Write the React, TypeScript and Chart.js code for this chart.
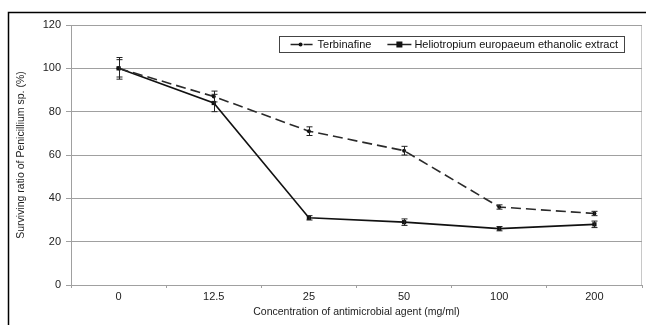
import React, { useEffect, useRef } from "react";
import { Chart, registerables } from "chart.js";
Chart.register(...registerables);

const categories = ["0", "12.5", "25", "50", "100", "200"];
const terbinafine = [100, 87, 71, 62, 36, 33];
const terbinafineErr = [5, 2.5, 2, 2, 1, 1];
const heliotropium = [100, 84, 31, 29, 26, 28];
const heliotropiumErr = [4, 4, 1, 1.5, 1, 1.5];
const seriesNames = ["Terbinafine", "Heliotropium europaeum ethanolic extract"];
const yMin = 0;
const yMax = 120;
const yStep = 20;
const xTitle = "Concentration of antimicrobial agent (mg/ml)";
const yTitle = "Surviving ratio of Penicillium sp. (%)";

const FONT = "'Liberation Sans', Arial, sans-serif";

const framePlugin = {
  id: "frame",
  beforeDraw(chart: any) {
    const { ctx, width, height, chartArea } = chart;
    ctx.save();
    ctx.fillStyle = "#ffffff";
    ctx.fillRect(0, 0, width, height);
    ctx.strokeStyle = "#000000";
    ctx.lineWidth = 1.5;
    ctx.beginPath();
    ctx.moveTo(8.5, height);
    ctx.lineTo(8.5, 12.5);
    ctx.lineTo(width, 12.5);
    ctx.stroke();
    ctx.strokeStyle = "#c8c8c8";
    ctx.lineWidth = 1;
    ctx.beginPath();
    ctx.moveTo(chartArea.right - 0.5, chartArea.top);
    ctx.lineTo(chartArea.right - 0.5, chartArea.bottom);
    ctx.stroke();
    ctx.restore();
  },
};

const errorBarPlugin = {
  id: "errorBars",
  afterDatasetsDraw(chart: any) {
    const { ctx } = chart;
    const xs = chart.scales.x;
    const ys = chart.scales.y;
    ctx.save();
    ctx.strokeStyle = "#222222";
    ctx.lineWidth = 1;
    chart.data.datasets.forEach((ds: any) => {
      const errs: number[] = ds.errors || [];
      ds.data.forEach((v: number, i: number) => {
        const e = errs[i];
        if (!e) return;
        const x = Math.round(xs.getPixelForValue(i)) + 0.5;
        const yt = ys.getPixelForValue(v + e);
        const yb = ys.getPixelForValue(v - e);
        ctx.beginPath();
        ctx.moveTo(x, yt);
        ctx.lineTo(x, yb);
        ctx.moveTo(x - 3, yt);
        ctx.lineTo(x + 3, yt);
        ctx.moveTo(x - 3, yb);
        ctx.lineTo(x + 3, yb);
        ctx.stroke();
      });
    });
    ctx.restore();
  },
};

const legendPlugin = {
  id: "boxLegend",
  afterDraw(chart: any) {
    const { ctx, chartArea } = chart;
    ctx.save();
    ctx.font = `11px ${FONT}`;
    const sample = 24;
    const w1 = ctx.measureText(chart.data.datasets[0].label).width;
    const w2 = ctx.measureText(chart.data.datasets[1].label).width;
    const padL = 12, gapT = 3, gapItem = 16, padR = 6;
    const boxW = padL + sample + gapT + w1 + gapItem + sample + gapT + w2 + padR;
    const boxH = 16;
    const right = chartArea.right - 18;
    const left = right - boxW;
    const top = 36;
    ctx.fillStyle = "#ffffff";
    ctx.fillRect(left, top, boxW, boxH);
    ctx.strokeStyle = "#444444";
    ctx.lineWidth = 1;
    ctx.strokeRect(Math.round(left) + 0.5, top + 0.5, Math.round(boxW), boxH);
    const cy = top + boxH / 2 + 0.5;
    let x = left + padL;
    ctx.strokeStyle = "#222222";
    ctx.lineWidth = 1.5;
    ctx.setLineDash([9, 4]);
    ctx.beginPath();
    ctx.moveTo(x, cy);
    ctx.lineTo(x + sample, cy);
    ctx.stroke();
    ctx.setLineDash([]);
    ctx.fillStyle = "#111111";
    ctx.beginPath();
    ctx.arc(x + sample / 2 - 2, cy, 2, 0, Math.PI * 2);
    ctx.fill();
    x += sample + gapT;
    ctx.fillStyle = "#111111";
    ctx.textBaseline = "middle";
    ctx.textAlign = "left";
    ctx.fillText(chart.data.datasets[0].label, x, cy);
    x += w1 + gapItem;
    ctx.beginPath();
    ctx.moveTo(x, cy);
    ctx.lineTo(x + sample, cy);
    ctx.stroke();
    ctx.fillRect(x + sample / 2 - 3, cy - 3, 6, 6);
    x += sample + gapT;
    ctx.fillText(chart.data.datasets[1].label, x, cy);
    ctx.restore();
  },
};

export default function App() {
  const ref = useRef<HTMLCanvasElement | null>(null);
  useEffect(() => {
    if (!ref.current) return;
    const chart = new Chart(ref.current, {
      type: "line",
      data: {
        labels: categories,
        datasets: [
          {
            label: seriesNames[0],
            data: terbinafine,
            errors: terbinafineErr,
            borderColor: "#2a2a2a",
            backgroundColor: "#111111",
            borderWidth: 1.6,
            borderDash: [10, 5],
            pointStyle: "circle",
            pointRadius: 2,
            pointBorderWidth: 0,
            pointBackgroundColor: "#111111",
            tension: 0,
          } as any,
          {
            label: seriesNames[1],
            data: heliotropium,
            errors: heliotropiumErr,
            borderColor: "#111111",
            backgroundColor: "#111111",
            borderWidth: 1.6,
            pointStyle: "rect",
            pointRadius: 3,
            pointBorderWidth: 0,
            pointBackgroundColor: "#111111",
            tension: 0,
          } as any,
        ],
      },
      options: {
        responsive: false,
        animation: false,
        layout: { padding: { left: 0, top: 25, right: 0, bottom: 0 } },
        plugins: {
          legend: { display: false },
          tooltip: { enabled: false },
        },
        scales: {
          x: {
            type: "category",
            offset: true,
            afterFit(scale: any) {
              scale.height = 40;
            },
            grid: {
              offset: true,
              drawOnChartArea: false,
              drawTicks: true,
              tickLength: 3,
              color: "#a0a0a0",
            },
            border: { color: "#a0a0a0", width: 1 },
            ticks: {
              color: "#222222",
              font: { family: FONT, size: 11 },
              padding: 2,
              maxRotation: 0,
              autoSkip: false,
            },
            title: {
              display: true,
              text: xTitle,
              color: "#222222",
              font: { family: FONT, size: 10.5 },
              padding: { top: 0, bottom: 7 },
            },
          },
          y: {
            min: yMin,
            max: yMax,
            afterFit(scale: any) {
              scale.width = 71;
            },
            ticks: {
              stepSize: yStep,
              color: "#222222",
              font: { family: FONT, size: 11 },
              padding: 5,
            },
            grid: {
              color: "#a0a0a0",
              tickLength: 5,
              drawTicks: true,
            },
            border: { color: "#a0a0a0", width: 1 },
            title: {
              display: true,
              text: yTitle,
              color: "#222222",
              font: { family: FONT, size: 10.5 },
              padding: { top: 15, bottom: 0 },
            },
          },
        },
      },
      plugins: [framePlugin, errorBarPlugin, legendPlugin],
    });
    return () => chart.destroy();
  }, []);
  return (
    <div style={{ position: "absolute", left: 0, top: 0, width: 646, height: 325 }}>
      <canvas ref={ref} width={646} height={325} style={{ display: "block" }} />
    </div>
  );
}
